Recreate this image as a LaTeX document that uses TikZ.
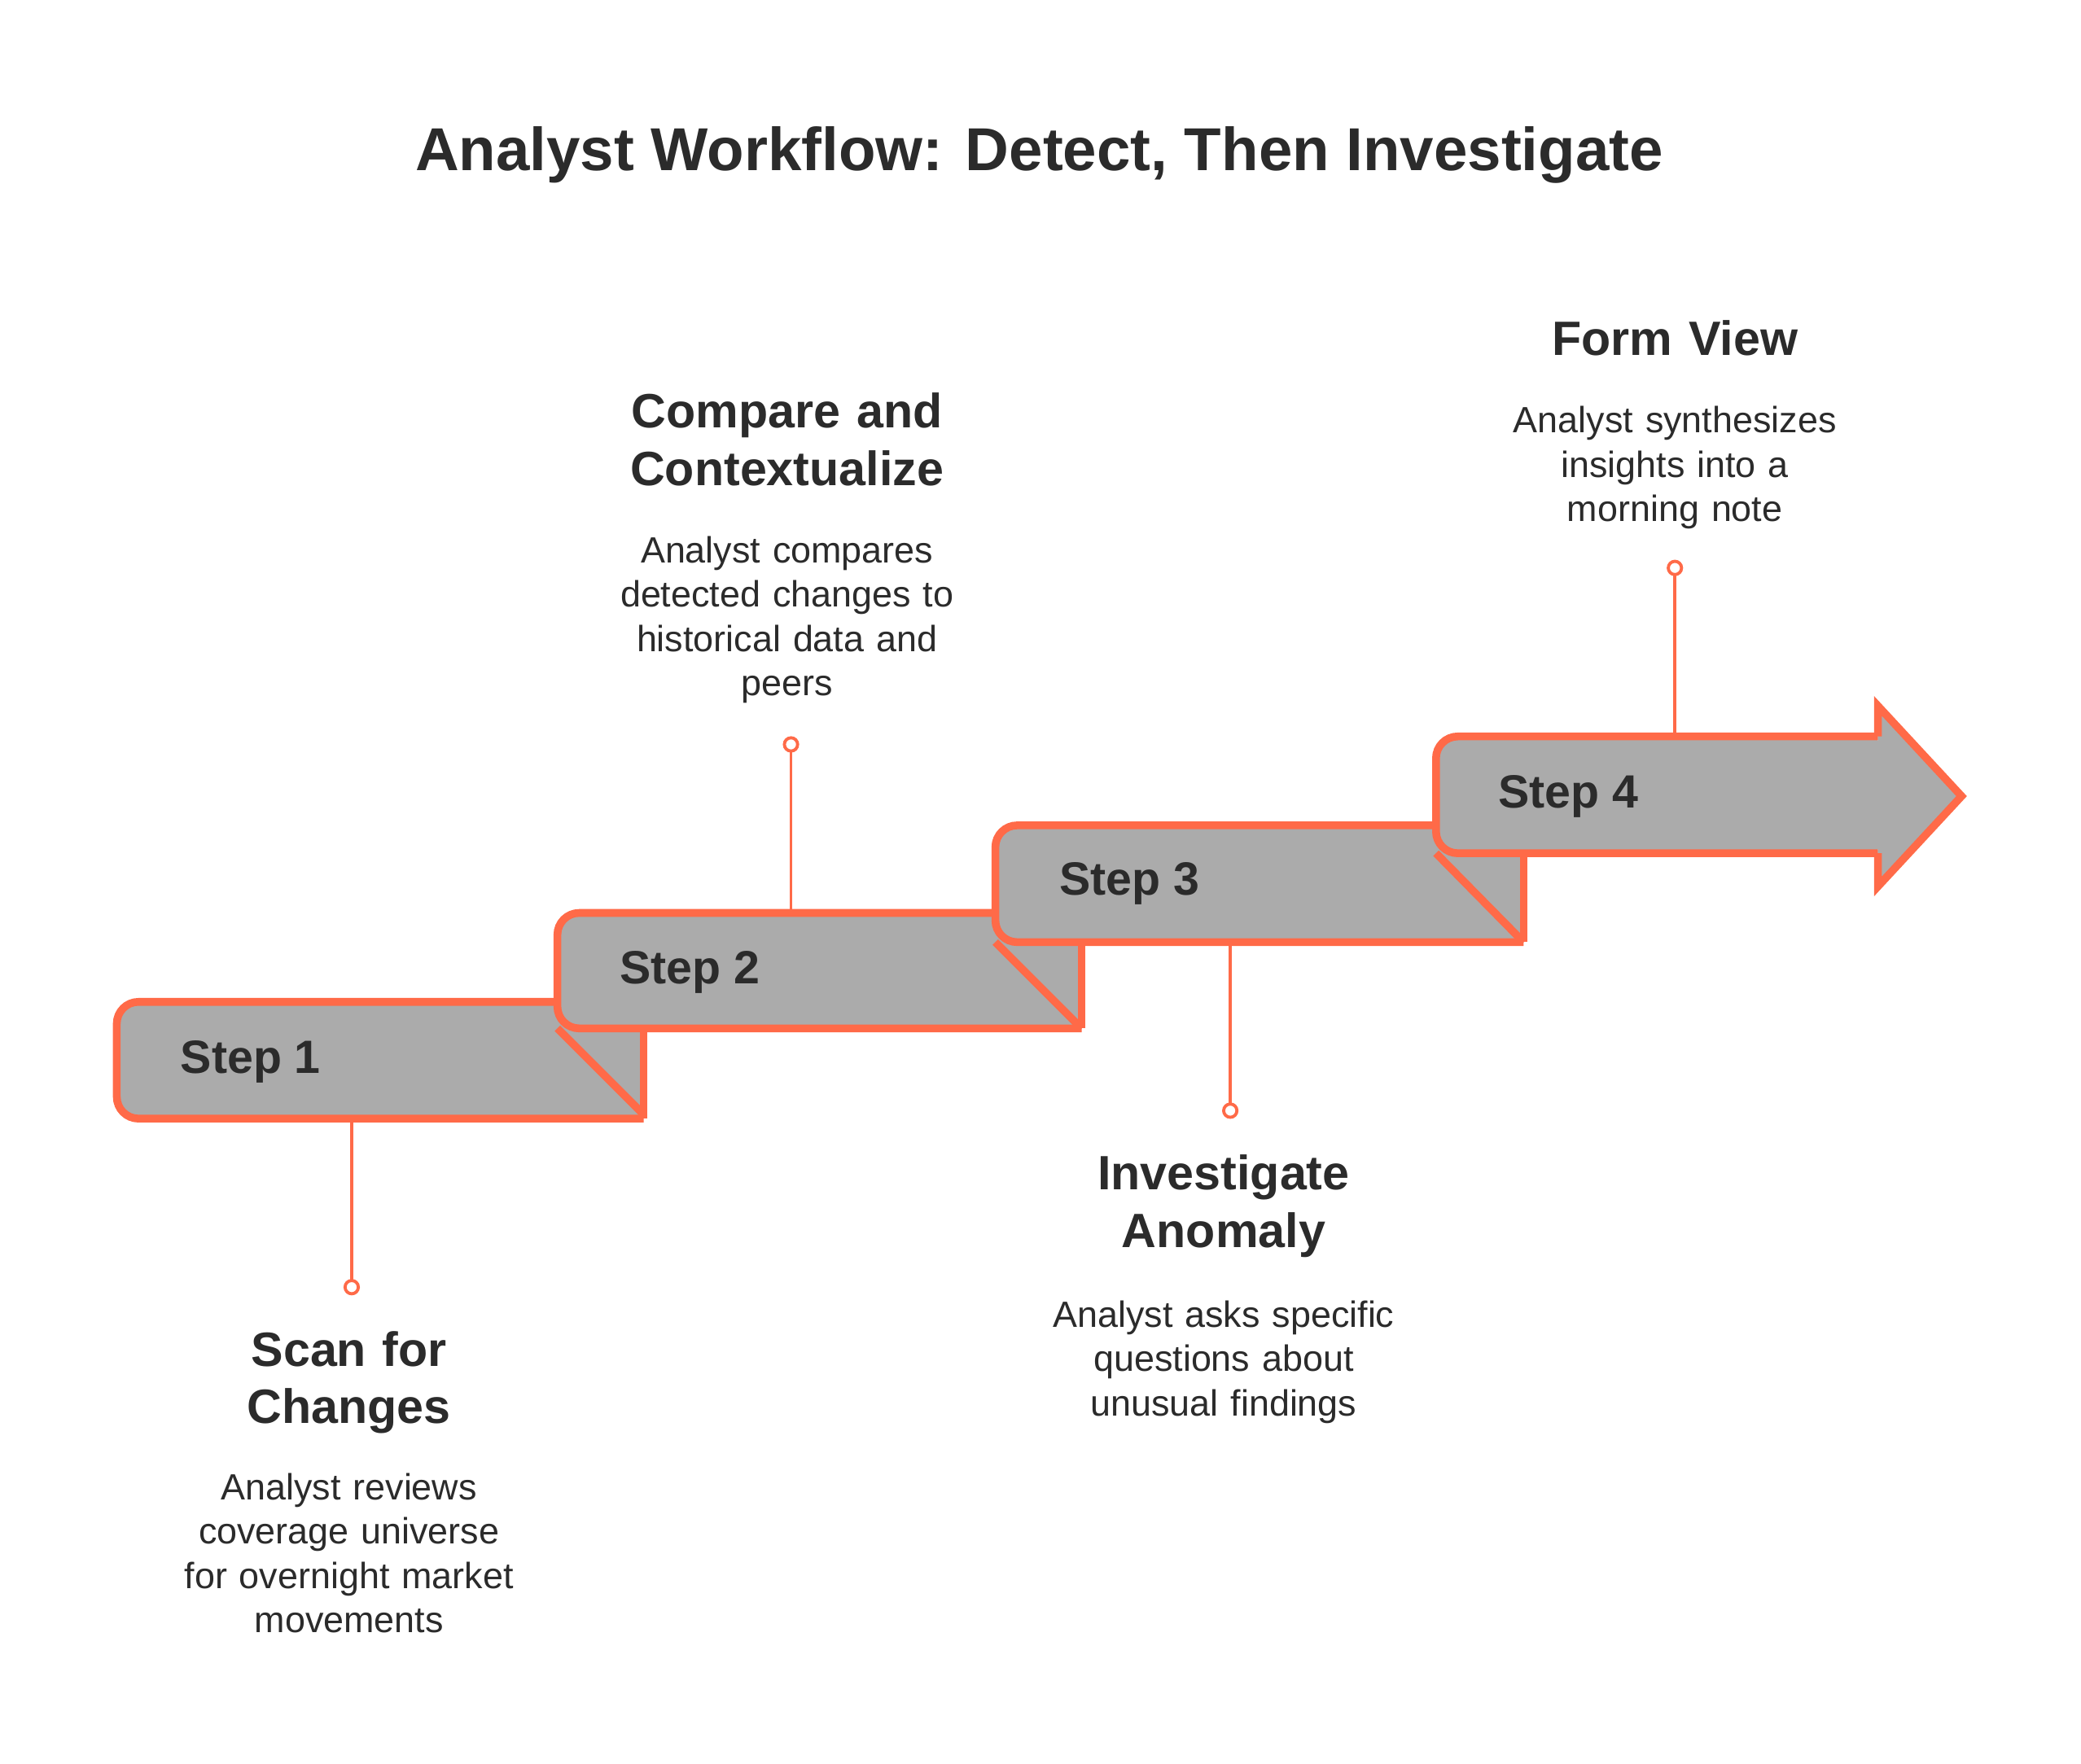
\documentclass[tikz,border=0pt]{standalone}
\usepackage{fontspec}
\setmainfont{Liberation Sans}
\definecolor{stepfill}{HTML}{ABABAB}
\definecolor{stepline}{HTML}{FF6A48}
\definecolor{ink}{HTML}{2B2B2B}
\tikzset{
  stepbox/.style={fill=stepfill, draw=stepline, line width=5pt, line join=miter},
  fold/.style={draw=stepline, line width=5pt},
  stem/.style={draw=stepline, line width=2pt},
  dot/.style={draw=stepline, line width=2pt, fill=white},
  steplabel/.style={anchor=west, text=ink, font=\fontsize{30}{34}\selectfont\bfseries},
  headline/.style={anchor=north, align=center, text=ink, text width=11cm, inner sep=0pt,
    font=\fontsize{31}{37}\selectfont\bfseries},
  blurb/.style={anchor=north, align=center, text=ink, text width=11cm, inner sep=0pt,
    font=\fontsize{23.5}{28.5}\selectfont},
}
\begin{document}
\begin{tikzpicture}[x=0.03cm, y=-0.03cm]
\useasboundingbox (0,0) rectangle (1568,1329);

\node[text=ink, font=\fontsize{39}{45}\selectfont\bfseries] (title) at (783,117) {Analyst Workflow: Detect, Then Investigate};

%% steps, back to front
\draw[stepbox, rounded corners=14pt] (485,755) -- (88,755) -- (88,843) -- (485,843);
\draw[stepbox] (485,843) -- (485,755);
\draw[fold] (420,775) -- (485,840);

\draw[stepbox, rounded corners=14pt] (815,688) -- (420,688) -- (420,775) -- (815,775);
\draw[stepbox] (815,775) -- (815,688);
\draw[fold] (750,710) -- (815,775);

\draw[stepbox, rounded corners=14pt] (1148,622) -- (750,622) -- (750,710) -- (1148,710);
\draw[stepbox] (1148,710) -- (1148,622);
\draw[fold] (1082,643) -- (1148,710);

\draw[stepbox, rounded corners=14pt] (1415,555) -- (1082,555) -- (1082,643) -- (1415,643);
\draw[stepbox] (1415,643) -- (1415,668) -- (1478,600) -- (1415,532) -- (1415,555);
\fill[stepfill] (1410,558) rectangle (1420,640);

\node[steplabel] (s1) at (132,800) {Step 1};
\node[steplabel] (s2) at (463,733) {Step 2};
\node[steplabel] (s3) at (794,666) {Step 3};
\node[steplabel] (s4) at (1125,600) {Step 4};

%% stems
\coordinate (b1) at (265,846);  \coordinate (d1) at (265,970);
\coordinate (b2) at (596,685);  \coordinate (d2) at (596,561);
\coordinate (b3) at (927,713);  \coordinate (d3) at (927,837);
\coordinate (b4) at (1262,552); \coordinate (d4) at (1262,428);
\foreach \i in {1,...,4}{
  \draw[stem] (b\i) -- (d\i);
  \draw[dot] (d\i) circle (5);
}

%% texts
\node[headline] (h1) at (263,1003) {Scan for\\Changes};
\node[blurb] (t1) at (263,1110) {Analyst reviews\\coverage universe\\for overnight market\\movements};
\node[headline] (h2) at (593,296) {Compare and\\Contextualize};
\node[blurb] (t2) at (593,404) {Analyst compares\\detected changes to\\historical data and\\peers};
\node[headline] (h3) at (922,870) {Investigate\\Anomaly};
\node[blurb] (t3) at (922,980) {Analyst asks specific\\questions about\\unusual findings};
\node[headline] (h4) at (1262,241) {Form View};
\node[blurb] (t4) at (1262,306) {Analyst synthesizes\\insights into a\\morning note};
\end{tikzpicture}
\end{document}
